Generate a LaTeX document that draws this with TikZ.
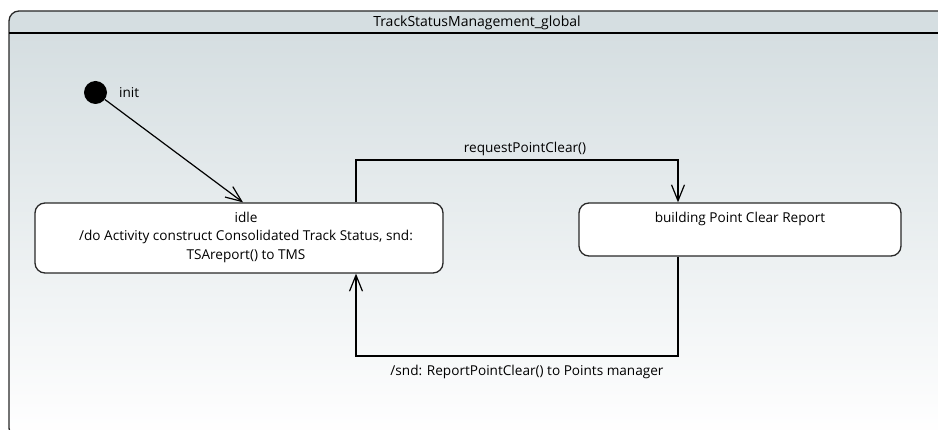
\documentclass[tikz,border=0pt]{standalone}
\usepackage{fontspec}
\setmainfont{Open Sans}
\usetikzlibrary{arrows.meta}
\definecolor{bgtop}{RGB}{213,222,225}
\definecolor{edge}{RGB}{40,40,40}
\tikzset{
  state/.style={draw=edge, line width=1.3pt, fill=white, rounded corners=10pt},
  trans/.style={draw=black, line width=1.2pt, -{Straight Barb[length=16pt,width=13pt,line width=1.2pt]}},
  lbl/.style={inner sep=0pt, font=\fontsize{13.6}{18.5}\selectfont},
}
\begin{document}
\begin{tikzpicture}[x=1pt,y=-1pt]
\useasboundingbox (0,0) rectangle (938,430);
\clip (0,0) rectangle (938,430);
% frame with gradient
\fill[bgtop, rounded corners=10pt] (9,11) rectangle (960,40);
\shade[top color=bgtop, bottom color=white] (9.7,34) -- (960,34) -- (960,437) -- (9.7,437) -- cycle;
\draw[edge, line width=1.3pt, rounded corners=10pt] (960,11) -- (9,11) -- (9,438) -- (960,438);
\draw[black, line width=1.2pt] (9,33) -- (938,33);
\node[lbl, font=\fontsize{14}{16}\selectfont] (title) at (477,23) {TrackStatusManagement\_global};

% initial state
\node[circle, fill=black, minimum size=23pt, inner sep=0pt] (init) at (95.5,92.5) {};
\node[lbl, anchor=west] (initlbl) at (119,93) {init};

% states
\node[state, minimum width=408pt, minimum height=70pt, inner sep=0pt] (idle) at (239,238) {};
\node[lbl, align=center] (idletxt) at (246,237)
  {idle\\/do Activity construct Consolidated Track Status, snd:\\TSAreport() to TMS};
\node[state, minimum width=322pt, minimum height=53pt, inner sep=0pt] (build) at (740,229.5) {};
\node[lbl] (buildtxt) at (740,218.5) {building Point Clear Report};

% transitions
\draw[trans] (init) -- (idle.north -| 243,0);
\draw[trans] (idle.north -| 356,0) |- (517,160) -| (build.north -| 678,0);
\node[lbl, anchor=south] (reqlbl) at (525,156) {requestPointClear()};
\draw[trans] (build.south -| 678,0) |- (517,356) -| (idle.south -| 356,0);
\node[lbl, anchor=north] (sndlbl) at (527,365) {/snd: ReportPointClear() to Points manager};
\end{tikzpicture}
\end{document}
